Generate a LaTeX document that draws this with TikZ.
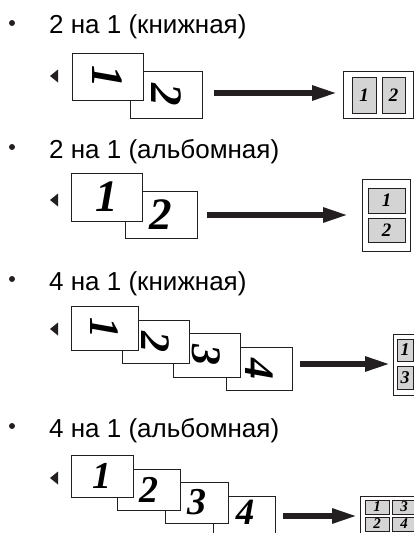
\documentclass[tikz,border=0pt]{standalone}
\usepackage{fontspec}
\setmainfont{Liberation Sans}
\newfontfamily\numfont{Liberation Serif}
\usepackage{graphicx}
\usetikzlibrary{arrows.meta}
\definecolor{linec}{HTML}{231F20}
\definecolor{cellgray}{HTML}{D4D4D4}
\newcommand\mkbox[7]{%
  \pgfmathsetmacro\bx{(#3+#5)/2}\pgfmathsetmacro\by{(#4+#6)/2}%
  \pgfmathsetmacro\bw{#5-#3}\pgfmathsetmacro\bh{#6-#4}%
  \node[#1, minimum width=\bw pt, minimum height=\bh pt] (#2) at (\bx,\by) {#7};}
\newcommand\dg[2]{{\numfont\bfseries\itshape\fontsize{#1}{#1}\selectfont #2}}
\newcommand\rdg[2]{\rotatebox{-90}{\dg{#1}{#2}}}
\tikzset{
  lbl/.style={font=\fontsize{26}{30}\selectfont, inner sep=0pt, anchor=base west},
  page/.style={draw=linec, fill=white, line width=0.9pt, inner sep=0pt},
  outerbox/.style={draw=linec, fill=white, line width=0.9pt, inner sep=0pt},
  cell/.style={draw=linec, fill=cellgray, line width=0.9pt, inner sep=0pt},
  bigarrow/.style={draw=linec, line width=5.5pt, -{Triangle[length=25pt,width=14pt]}},
  marker/.style={fill=linec}
}
\begin{document}
\begin{tikzpicture}[x=1pt,y=-1pt]
\useasboundingbox (0,0) rectangle (414,533);
\clip (0,0) rectangle (414,533);
% ---------- section 1
\fill[linec] (12,23) circle (3pt);
\node[lbl] (t1) at (49,33) {2 на 1 (книжная)};
\fill[marker] (50,76) -- (58,69.5) -- (58,82.5) -- cycle;
\mkbox{page}{s1p2}{130}{71}{202}{118}{\rdg{45}{2}}
\mkbox{page}{s1p1}{72}{53}{143}{100}{\rdg{45}{1}}
\coordinate (s1a) at (214,93);
\coordinate (s1b) at (337,93);
\draw[bigarrow] (s1a) -- (s1b);
\mkbox{outerbox}{s1r}{343}{71}{413}{118}{}
\mkbox{cell}{s1c1}{352}{77}{376}{113}{\dg{19}{1}}
\mkbox{cell}{s1c2}{382}{77}{405}{113}{\dg{19}{2}}
% ---------- section 2
\fill[linec] (12,147) circle (3pt);
\node[lbl] (t2) at (49,158) {2 на 1 (альбомная)};
\fill[marker] (50,200) -- (58,193.5) -- (58,206.5) -- cycle;
\mkbox{page}{s2p2}{125}{191}{197}{238}{\dg{45}{2}}
\mkbox{page}{s2p1}{71}{173}{142}{221}{\dg{45}{1}}
\coordinate (s2a) at (207,215);
\coordinate (s2b) at (348,215);
\draw[bigarrow] (s2a) -- (s2b);
\mkbox{outerbox}{s2r}{362}{179}{410}{251}{}
\mkbox{cell}{s2c1}{368}{188}{405}{213}{\dg{19}{1}}
\mkbox{cell}{s2c2}{368}{218}{405}{242}{\dg{19}{2}}
% ---------- section 3
\fill[linec] (12,279) circle (3pt);
\node[lbl] (t3) at (49,290) {4 на 1 (книжная)};
\fill[marker] (50,329) -- (58,322.5) -- (58,335.5) -- cycle;
\mkbox{page}{s3p4}{226}{347}{292}{390}{\rdg{42}{4}}
\mkbox{page}{s3p3}{173}{333}{240}{377}{\rdg{42}{3}}
\mkbox{page}{s3p2}{122}{320}{189}{363}{\rdg{42}{2}}
\mkbox{page}{s3p1}{71}{306}{138}{350}{\rdg{42}{1}}
\coordinate (s3a) at (300,364);
\coordinate (s3b) at (390,364);
\draw[bigarrow] (s3a) -- (s3b);
\mkbox{outerbox}{s3r}{393}{334}{445}{395}{}
\mkbox{cell}{s3c1}{397}{339}{413}{361}{\dg{18}{1}}
\mkbox{cell}{s3c3}{397}{366}{413}{389}{\dg{18}{3}}
% ---------- section 4
\fill[linec] (12,426) circle (3pt);
\node[lbl] (t4) at (49,437) {4 на 1 (альбомная)};
\fill[marker] (50,478) -- (58,471.5) -- (58,484.5) -- cycle;
\mkbox{page}{s4p4}{213}{496}{275}{535}{}
\node[inner sep=0pt] (s4d4) at (245,512) {\dg{37}{4}};
\mkbox{page}{s4p3}{165}{482}{228}{523}{\dg{38}{3}}
\mkbox{page}{s4p2}{117}{469}{180}{510}{\dg{38}{2}}
\mkbox{page}{s4p1}{71}{455}{133}{497}{\dg{38}{1}}
\coordinate (s4a) at (283,516);
\coordinate (s4b) at (357,516);
\draw[bigarrow] (s4a) -- (s4b);
\mkbox{outerbox}{s4r}{360}{496}{445}{545}{}
\mkbox{cell}{s4c1}{365}{500}{389}{514}{\dg{15}{1}}
\mkbox{cell}{s4c3}{392}{500}{416}{514}{\dg{15}{3}}
\mkbox{cell}{s4c2}{365}{517}{389}{531}{\dg{15}{2}}
\mkbox{cell}{s4c4}{392}{517}{416}{531}{\dg{15}{4}}
\end{tikzpicture}
\end{document}
